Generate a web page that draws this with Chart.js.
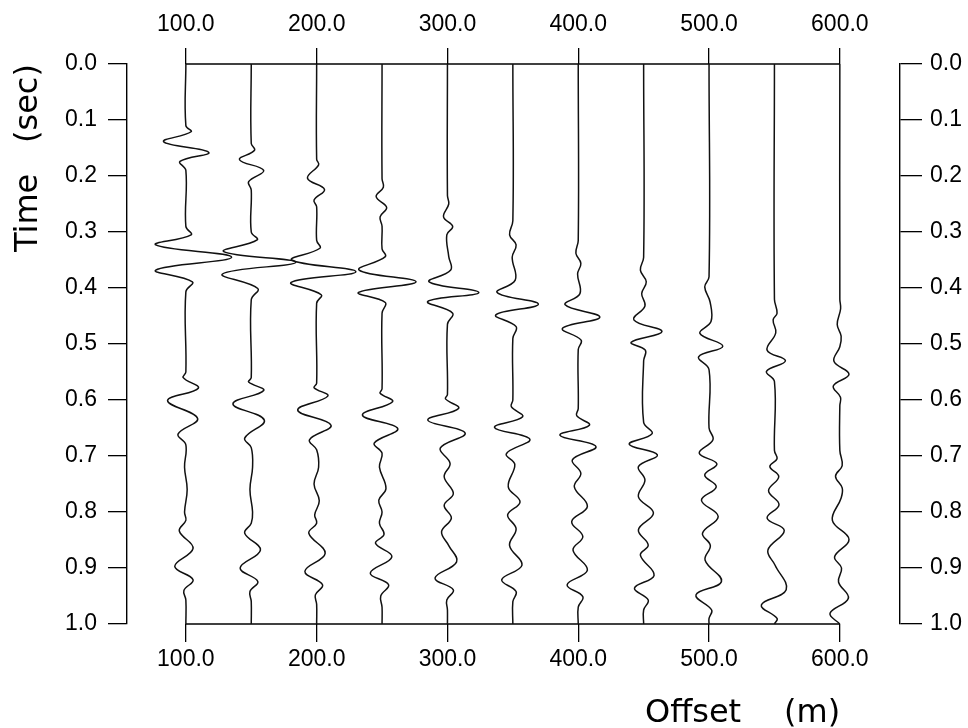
<!DOCTYPE html>
<html>
<head>
<meta charset="utf-8">
<title>Shot gather</title>
<style>
  html, body { margin: 0; padding: 0; background: #fff; }
  #wrap { width: 968px; height: 728px; }
</style>
</head>
<body>
<div id="wrap"><canvas id="gatherChart"></canvas></div>

<script src="https://cdn.jsdelivr.net/npm/chart.js"></script>
<script>
    // receiver offsets (m) and tick labels
    const offsets = [100, 150, 200, 250, 300, 350, 400, 450, 500, 550, 600];
    const offsetTicks = [100, 200, 300, 400, 500, 600];
    const timeTicks = [0, 0.1, 0.2, 0.3, 0.4, 0.5, 0.6, 0.7, 0.8, 0.9, 1.0];

    // each trace: [time (s), amplitude in offset units (m)]
    const tr100 = [[0,0],[0.11,0],[0.121,4],[0.139,-17],[0.158,17.5],[0.174,-4.5],[0.19,0],[0.29,0],[0.305,4],[0.323,-23],[0.345,35],[0.368,-23],[0.389,5],[0.407,0],[0.55,0],[0.56,-2],[0.579,9.5],[0.601,-14],[0.633,9],[0.661,-6],[0.68,0],[0.72,-1],[0.76,1],[0.8,-1],[0.815,0],[0.834,-5],[0.865,5.5],[0.897,-8.5],[0.921,5.5],[0.94,-1.5],[0.957,0],[1,0]];
    const tr150 = [[0,0],[0.142,0],[0.154,2.5],[0.171,-9],[0.19,9.5],[0.21,-2],[0.225,0],[0.3,0],[0.314,4.5],[0.335,-21],[0.354,34],[0.375,-22],[0.401,5],[0.421,0],[0.56,0],[0.568,-2],[0.583,9.5],[0.607,-14],[0.636,10],[0.668,-5],[0.685,0],[0.72,1],[0.76,-1],[0.8,1],[0.82,0],[0.838,-5],[0.868,7],[0.9,-8.5],[0.924,5],[0.942,-1],[0.96,0],[1,0]];
    const tr200 = [[0,0],[0.17,0],[0.18,1.5],[0.204,-7],[0.224,6],[0.243,-2],[0.255,0],[0.315,0],[0.329,2.5],[0.35,-19],[0.371,30],[0.39,-19.5],[0.412,3.5],[0.427,0],[0.57,0],[0.578,-2],[0.593,8.5],[0.618,-14.5],[0.645,11],[0.671,-5.5],[0.689,0],[0.72,1.5],[0.75,-2],[0.78,2],[0.805,-1.5],[0.82,0],[0.838,-6],[0.874,6.5],[0.906,-9],[0.93,4.5],[0.948,-1],[0.965,0],[1,0]];
    const tr250 = [[0,0],[0.205,0],[0.22,1],[0.237,-4.5],[0.256,3.5],[0.273,-1.5],[0.29,0],[0.33,0],[0.344,2.5],[0.368,-17.5],[0.389,26],[0.408,-18],[0.426,2.5],[0.445,0],[0.58,0],[0.588,-1.5],[0.603,8],[0.627,-15],[0.651,12],[0.677,-6],[0.695,0],[0.72,-2],[0.758,3],[0.779,-2.5],[0.8,0],[0.82,-2],[0.84,1.5],[0.856,-5],[0.88,7.5],[0.909,-9],[0.93,5],[0.95,-1],[0.97,0],[1,0]];
    const tr300 = [[0,0],[0.235,0],[0.25,1],[0.273,-3],[0.29,4],[0.305,-0.5],[0.344,1],[0.368,2.5],[0.389,-14],[0.408,24],[0.424,-15],[0.445,4],[0.465,0],[0.59,0],[0.598,-1.5],[0.615,8.5],[0.636,-15],[0.659,13.5],[0.686,-5.5],[0.713,2],[0.737,-2.5],[0.767,4.5],[0.788,-2.5],[0.811,3],[0.835,-4.5],[0.86,1],[0.889,7],[0.918,-9.5],[0.939,4.5],[0.957,-0.5],[0.975,0],[1,0]];
    const tr350 = [[0,0],[0.28,0],[0.305,-2.5],[0.323,2.5],[0.345,-0.5],[0.386,1.8],[0.408,-12],[0.429,19.5],[0.448,-13],[0.469,2.5],[0.49,0],[0.6,0],[0.612,-1.2],[0.63,7.5],[0.649,-14],[0.67,13],[0.696,-5],[0.715,1.5],[0.755,-3.5],[0.782,5.5],[0.805,-4],[0.83,2.5],[0.86,-2.5],[0.895,7],[0.921,-8.5],[0.942,2.5],[0.96,0],[1,0]];
    const tr400 = [[0,0],[0.315,0],[0.338,-1.8],[0.356,2],[0.375,-0.5],[0.41,1.3],[0.43,-10],[0.452,16.5],[0.472,-12],[0.493,2.2],[0.51,0],[0.615,0],[0.628,-1.2],[0.645,8.5],[0.663,-14],[0.683,13.5],[0.707,-4.5],[0.731,2],[0.755,-3],[0.79,7],[0.817,-5],[0.844,3.5],[0.868,-4],[0.904,7],[0.93,-8.5],[0.951,3.5],[0.97,0],[1,0]];
    const tr450 = [[0,0],[0.345,0],[0.368,-2.5],[0.389,2],[0.41,-1.5],[0.432,1],[0.457,-7.5],[0.478,14],[0.497,-9.5],[0.511,1.3],[0.53,0],[0.64,0],[0.66,6.5],[0.679,-11],[0.698,10.5],[0.719,-4],[0.743,1],[0.773,-4],[0.802,7.5],[0.832,-4],[0.859,3.5],[0.877,-2.5],[0.913,8],[0.936,-7],[0.957,3.5],[0.975,0],[1,0]];
    const tr500 = [[0,0],[0.38,0],[0.398,-3.3],[0.425,0.8],[0.46,1.5],[0.481,-7],[0.504,10.5],[0.523,-8],[0.546,0],[0.65,0],[0.671,3],[0.695,-7.5],[0.714,6],[0.734,-3.3],[0.755,5.5],[0.779,-5.8],[0.808,7],[0.838,-5],[0.86,1],[0.886,-3],[0.924,9.5],[0.948,-10],[0.975,2],[0.99,0],[1,0]];
    const tr550 = [[0,0],[0.42,0],[0.445,2],[0.457,-1],[0.48,1],[0.511,-5.6],[0.53,8.4],[0.549,-6.1],[0.567,0],[0.69,0],[0.705,2],[0.719,-3.5],[0.737,3.3],[0.762,-4.5],[0.787,3.5],[0.811,-5.6],[0.833,7.5],[0.868,-5],[0.895,0.5],[0.939,9],[0.966,-10],[0.99,2],[1,0]];
    const tr600 = [[0,0],[0.42,0],[0.437,0.6],[0.465,-2],[0.486,1],[0.505,0],[0.531,-4.5],[0.554,7],[0.575,-5],[0.595,0.5],[0.61,0],[0.69,0],[0.717,1.8],[0.736,-3.3],[0.757,1.8],[0.775,1],[0.815,-5.7],[0.849,7],[0.88,-4],[0.9,1.3],[0.925,-1],[0.954,6.5],[0.981,-7.5],[1,0]];

    const traces = [tr100, tr150, tr200, tr250, tr300, tr350, tr400, tr450, tr500, tr550, tr600];

    const tickFont = { family: '"Liberation Sans", Arial, sans-serif', size: 23 };
    const titleFont = '32px "DejaVu Sans", sans-serif';

    // wiggle traces, shifted to their offsets
    const traceSets = traces.map((tr, i) => ({
        data: tr.map(([t, a]) => ({ x: offsets[i] + a, y: t })),
        borderColor: '#111',
        borderWidth: 1.5,
        pointRadius: 0,
        tension: 0.4,
        clip: 4
    }));

    // top and bottom lines joining the first and last trace
    const frameSets = [0, 1].map(t => ({
        data: [{ x: offsets[0], y: t }, { x: offsets[offsets.length - 1], y: t }],
        borderColor: '#000',
        borderWidth: 1.6,
        pointRadius: 0,
        tension: 0,
        clip: 4
    }));

    // axis titles
    const axisTitles = {
        id: 'axisTitles',
        afterDraw(chart) {
            const { ctx, chartArea } = chart;
            ctx.save();
            ctx.fillStyle = '#000';
            ctx.font = titleFont;
            ctx.textAlign = 'left';
            ctx.textBaseline = 'alphabetic';
            ctx.fillText('Offset', chartArea.right - 255, 722);
            ctx.fillText('(m)', chartArea.right - 116, 722);

            ctx.translate(37, 252);
            ctx.rotate(-Math.PI / 2);
            ctx.fillText('Time', 0, 0);
            ctx.fillText('(sec)', 109, 0);
            ctx.restore();
        }
    };

    const offsetAxis = (position, height, tickLength, padding) => ({
        type: 'linear',
        position: position,
        min: 55,
        max: 646,
        afterBuildTicks: (scale) => { scale.ticks = offsetTicks.map(v => ({ value: v })); },
        afterFit: (scale) => { scale.height = height; },
        ticks: {
            callback: (v) => Number(v).toFixed(1),
            font: tickFont,
            color: '#000',
            padding: padding,
            maxRotation: 0,
            autoSkip: false
        },
        grid: {
            drawOnChartArea: false,
            drawTicks: true,
            tickLength: tickLength,
            color: '#000',
            lineWidth: 1.3
        },
        border: { display: false }
    });

    const timeAxis = (position, width, tickLength, padding) => ({
        type: 'linear',
        position: position,
        reverse: true,
        min: 0,
        max: 1,
        afterBuildTicks: (scale) => { scale.ticks = timeTicks.map(v => ({ value: v })); },
        afterFit: (scale) => { scale.width = width; },
        ticks: {
            callback: (v) => Number(v).toFixed(1),
            font: tickFont,
            color: '#000',
            padding: padding
        },
        grid: {
            drawOnChartArea: false,
            drawTicks: true,
            tickLength: tickLength,
            color: '#000',
            lineWidth: 1.3
        },
        border: { display: true, color: '#000', width: 1.4 }
    });

    const gatherCtx = document.getElementById('gatherChart').getContext('2d');
    const gatherChart = new Chart(gatherCtx, {
        type: 'line',
        data: {
            datasets: [...traceSets, ...frameSets]
        },
        options: {
            responsive: true,
            maintainAspectRatio: false,
            animation: false,
            layout: { padding: 0 },
            plugins: {
                legend: { display: false },
                tooltip: { enabled: false }
            },
            scales: {
                x: offsetAxis('bottom', 104, 18, 4),
                xTop: offsetAxis('top', 64, 16, 10),
                y: timeAxis('left', 127, 19, 11),
                yRight: timeAxis('right', 68, 22, 8)
            }
        },
        plugins: [axisTitles]
    });
</script>
</body>
</html>
